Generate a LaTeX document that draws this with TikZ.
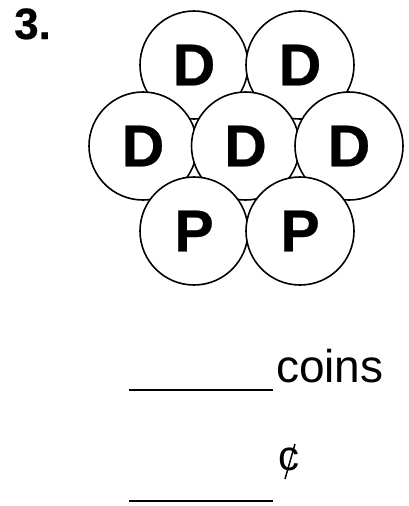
\documentclass[tikz,border=0pt]{standalone}
\usepackage{fontspec}
\setmainfont{Liberation Sans}
\newfontfamily\heavyfont[FakeBold=0.5]{Liberation Sans Bold}
\begin{document}
\begin{tikzpicture}[x=1pt,y=-1pt,
  coin/.style={circle,draw=black,fill=white,line width=1.6pt,minimum size=108pt,inner sep=0pt,
    font=\heavyfont\fontsize{59}{59}\selectfont},
  blank/.style={line width=2.4pt}]
\useasboundingbox (0,0) rectangle (409,506);
\node[anchor=base west,inner sep=0pt,font=\heavyfont\fontsize{44}{44}\selectfont] (num) at (14,39) {3.};
\node[coin] (d1) at (194,65) {D};
\node[coin] (d2) at (300,65) {D};
\node[coin] (d3) at (143,146) {D};
\node[coin] (d4) at (245.5,146) {D};
\node[coin] (d5) at (349,146) {D};
\node[coin] (p1) at (194,231) {P};
\node[coin] (p2) at (300,231) {P};
\coordinate (l1a) at (129,390);
\coordinate (l1b) at (273,390);
\coordinate (l2a) at (129,501);
\coordinate (l2b) at (273,501);
\draw[blank] (l1a) -- (l1b);
\draw[blank] (l2a) -- (l2b);
\node[anchor=base west,inner sep=0pt,font=\fontsize{46}{46}\selectfont] (coins) at (276,382) {coins};
\node[anchor=base west,inner sep=0pt,font=\fontsize{42}{42}\selectfont] (cent) at (278.5,470) {c};
\coordinate (sa) at (295,444);
\coordinate (sb) at (285,479);
\draw[line width=1.5pt] (sa) -- (sb);
\end{tikzpicture}
\end{document}
